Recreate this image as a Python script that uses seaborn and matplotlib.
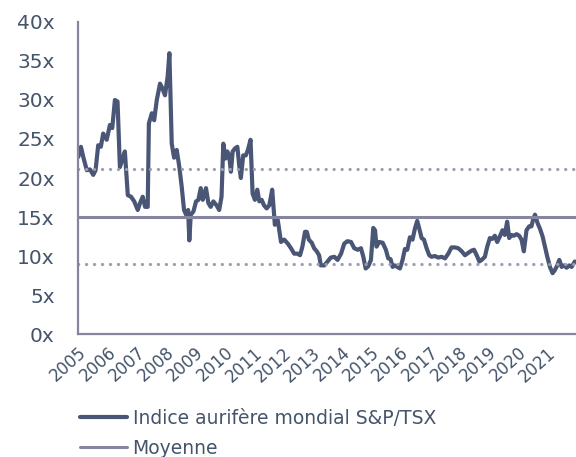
import numpy as np
import pandas as pd
import matplotlib
matplotlib.use("Agg")
import matplotlib.pyplot as plt
import seaborn as sns

# P/E ratio readings, date as decimal year
years = [
    2005.01, 2005.10, 2005.18, 2005.30, 2005.41, 2005.52, 2005.60, 2005.69, 2005.78, 2005.86,
    2005.98, 2006.09, 2006.17, 2006.26, 2006.35, 2006.43, 2006.51, 2006.60, 2006.70, 2006.81,
    2006.92, 2007.04, 2007.12, 2007.21, 2007.29, 2007.38, 2007.42, 2007.52, 2007.60, 2007.69,
    2007.80, 2007.88, 2007.97, 2008.06, 2008.12, 2008.20, 2008.28, 2008.37, 2008.46, 2008.54,
    2008.62, 2008.69, 2008.76, 2008.80, 2008.85, 2008.94, 2009.03, 2009.11, 2009.19, 2009.26,
    2009.37, 2009.45, 2009.53, 2009.62, 2009.73, 2009.82, 2009.90, 2009.96, 2010.04, 2010.10,
    2010.16, 2010.22, 2010.28, 2010.36, 2010.44, 2010.51, 2010.56, 2010.64, 2010.73, 2010.80,
    2010.89, 2010.96, 2011.04, 2011.12, 2011.19, 2011.27, 2011.35, 2011.44, 2011.53, 2011.63,
    2011.72, 2011.82, 2011.93, 2012.04, 2012.16, 2012.27, 2012.38, 2012.50, 2012.58, 2012.66,
    2012.75, 2012.81, 2012.88, 2012.98, 2013.06, 2013.15, 2013.23, 2013.29, 2013.41, 2013.52,
    2013.63, 2013.75, 2013.86, 2013.98, 2014.09, 2014.20, 2014.32, 2014.43, 2014.55, 2014.66,
    2014.74, 2014.82, 2014.91, 2015.00, 2015.08, 2015.14, 2015.19, 2015.28, 2015.40, 2015.51,
    2015.59, 2015.67, 2015.74, 2015.82, 2015.90, 2015.99, 2016.08, 2016.16, 2016.24, 2016.33,
    2016.42, 2016.50, 2016.58, 2016.65, 2016.73, 2016.81, 2016.90, 2016.99, 2017.07, 2017.18,
    2017.30, 2017.41, 2017.53, 2017.64, 2017.75, 2017.87, 2017.98, 2018.10, 2018.21, 2018.32,
    2018.44, 2018.52, 2018.61, 2018.70, 2018.78, 2018.89, 2018.97, 2019.06, 2019.15, 2019.23,
    2019.31, 2019.40, 2019.49, 2019.57, 2019.65, 2019.72, 2019.80, 2019.88, 2019.97, 2020.06,
    2020.14, 2020.22, 2020.31, 2020.40, 2020.48, 2020.53, 2020.60, 2020.69, 2020.77, 2020.86,
    2020.94, 2021.02, 2021.11, 2021.20, 2021.28, 2021.36, 2021.43, 2021.51, 2021.59, 2021.68,
    2021.77, 2021.85, 2021.96,
]
pe_ratio = [
    22.7, 24.0, 22.7, 21.0, 21.1, 20.4, 21.0, 24.2, 24.0, 25.7,
    24.9, 26.8, 26.4, 30.0, 29.8, 21.4, 22.3, 23.4, 17.8, 17.6,
    17.0, 15.9, 16.8, 17.6, 16.3, 16.3, 27.0, 28.3, 27.4, 30.0,
    32.1, 31.5, 30.6, 33.0, 36.0, 24.4, 22.6, 23.6, 21.4, 18.9,
    15.9, 15.3, 15.9, 12.0, 15.3, 15.7, 17.0, 17.2, 18.7, 17.2,
    18.7, 16.8, 16.3, 17.0, 16.5, 15.9, 17.6, 24.4, 22.5, 23.4,
    22.9, 20.8, 23.4, 23.8, 24.0, 21.4, 20.0, 22.9, 22.9, 23.6,
    24.9, 18.0, 17.2, 18.5, 17.0, 17.2, 16.5, 16.1, 16.5, 18.5,
    14.0, 14.6, 11.8, 12.1, 11.6, 11.0, 10.3, 10.3, 10.1, 11.2,
    13.1, 13.1, 12.1, 11.7, 11.0, 10.6, 10.1, 8.8, 8.8, 9.3,
    9.8, 9.9, 9.5, 10.3, 11.6, 11.9, 11.8, 11.0, 10.8, 11.0,
    9.9, 8.4, 8.7, 9.5, 13.6, 13.3, 11.2, 11.8, 11.7, 10.8,
    9.7, 9.6, 8.6, 8.8, 8.6, 8.4, 9.5, 10.9, 10.8, 12.4,
    12.1, 13.5, 14.5, 13.5, 12.3, 12.1, 11.0, 10.1, 9.9, 10.0,
    9.8, 9.9, 9.7, 10.3, 11.1, 11.1, 11.0, 10.6, 10.1, 10.4,
    10.7, 10.8, 10.1, 9.3, 9.5, 9.9, 11.2, 12.3, 12.2, 12.6,
    11.8, 12.5, 13.3, 12.7, 14.4, 12.3, 12.7, 12.6, 12.8, 12.6,
    12.1, 10.6, 13.3, 13.8, 13.8, 14.6, 15.3, 14.2, 13.5, 12.5,
    11.2, 9.9, 8.6, 7.8, 8.2, 8.8, 9.5, 8.6, 8.8, 8.5,
    8.8, 8.6, 9.3,
]
mean_pe = 15.05
std_pe = 6.1
year_ticks = list(range(2005, 2022))

series_name = "Indice aurifère mondial S&P/TSX"
mean_name = "Moyenne"

df = pd.DataFrame({"year": years, "pe": pe_ratio})

text_col = "#44546a"
line_col = "#4a5675"
mean_col = "#8585a0"
dot_col = "#9c9cb2"

sns.set_style("white")
plt.rcParams['font.family'] = ['DejaVu Sans']

fig = plt.figure(figsize=(5.76, 4.57), dpi=100)
ax = fig.add_axes([0.1354, 0.2691, 0.8646, 0.6828])

sns.lineplot(data=df, x="year", y="pe", ax=ax, color=line_col, linewidth=3.0,
             label=series_name, legend=False)
ax.axhline(mean_pe, color=mean_col, linewidth=2.2, label=mean_name)
for lvl in (mean_pe + std_pe, mean_pe - std_pe):
    ax.axhline(lvl, color=dot_col, linewidth=2.3, linestyle=(0, (0.05, 2.45)),
               dash_capstyle="round")

ax.set_xlim(2005, 2022)
ax.set_ylim(0, 40)
ax.set_yticks(range(0, 41, 5))
ax.set_yticklabels([f"{v}x" for v in range(0, 41, 5)])
ax.set_xticks(year_ticks)
ax.set_xticklabels([str(y) for y in year_ticks], rotation=42, ha="right",
                   rotation_mode="anchor")
ax.set_xlabel("")
ax.set_ylabel("")

for side in ("top", "right"):
    ax.spines[side].set_visible(False)
for side in ("left", "bottom"):
    ax.spines[side].set_color(mean_col)
    ax.spines[side].set_linewidth(1.6)

ax.tick_params(axis="y", direction="out", length=5.8, width=1.4, color=mean_col,
               labelsize=14.5, labelcolor=text_col, pad=11)
ax.tick_params(axis="x", length=0, labelsize=12, labelcolor=text_col, pad=7)

handles, labels = ax.get_legend_handles_labels()
fig.legend(handles, labels, loc="upper left", bbox_to_anchor=(0.139, 0.106),
           frameon=False, fontsize=13.5, labelcolor=text_col, handlelength=2.5,
           handletextpad=0.3, labelspacing=0.6, borderpad=0, borderaxespad=0)

fig.savefig("out.png", dpi=100)
